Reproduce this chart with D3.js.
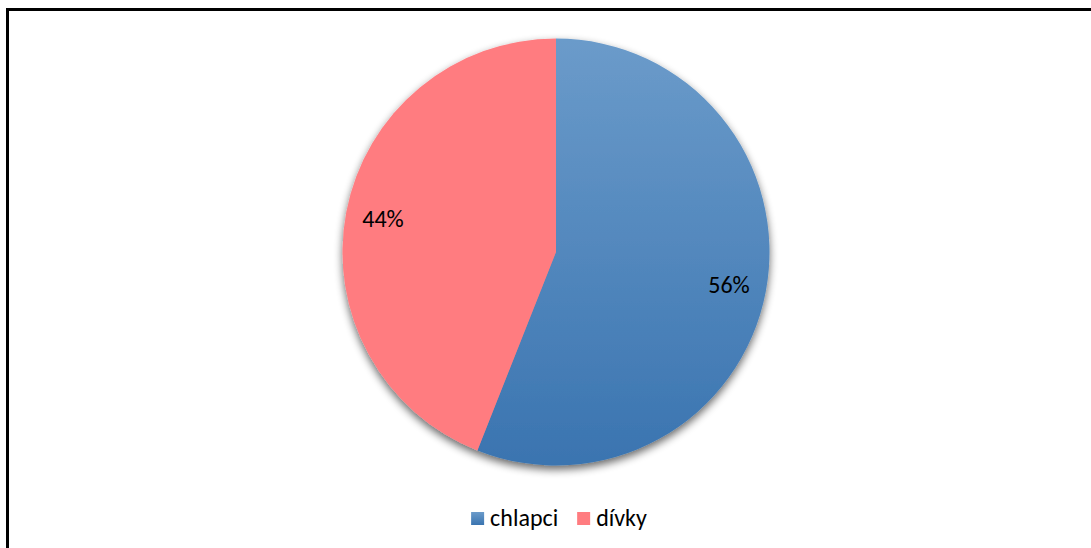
<!DOCTYPE html>
<html>
<head>
<meta charset="utf-8">
<script src="https://cdn.jsdelivr.net/npm/d3@7"></script>
<style>
  html, body { margin: 0; padding: 0; background: #fff; }
  svg { display: block; }
  text { font-family: Carlito, "Open Sans", Lato, sans-serif; }
</style>
</head>
<body>
<svg id="chart" width="1091" height="548"></svg>
<script>
// Pupils by gender
const categories = ["chlapci", "dívky"];
const shares = [56, 44];
const colors = ["#4a84bf", "#ff7c80"];

const svg = d3.select("#chart");
const W = 1091, H = 548;
const cx = 556, cy = 252, R = 213.5;
const fontSize = 24;

const defs = svg.append("defs");

// top-to-bottom shading of the blue slice (coordinates of the pie group)
const grad = defs.append("linearGradient")
  .attr("id", "blueGrad")
  .attr("gradientUnits", "userSpaceOnUse")
  .attr("x1", 0).attr("y1", -R).attr("x2", 0).attr("y2", R);
grad.append("stop").attr("offset", "0%").attr("stop-color", "#6b9bca");
grad.append("stop").attr("offset", "100%").attr("stop-color", "#3a74b0");

const lg = defs.append("linearGradient").attr("id", "legGrad")
  .attr("x1", 0).attr("y1", 0).attr("x2", 0).attr("y2", 1);
lg.append("stop").attr("offset", "0%").attr("stop-color", "#6b9bca");
lg.append("stop").attr("offset", "100%").attr("stop-color", "#3a74b0");

const shadow = defs.append("filter").attr("id", "shadow")
  .attr("x", "-20%").attr("y", "-20%").attr("width", "140%").attr("height", "140%");
shadow.append("feGaussianBlur").attr("in", "SourceAlpha").attr("stdDeviation", 4).attr("result", "b");
shadow.append("feOffset").attr("in", "b").attr("dx", 0).attr("dy", 4).attr("result", "o");
shadow.append("feComponentTransfer").attr("in", "o").attr("result", "s")
  .append("feFuncA").attr("type", "linear").attr("slope", 0.6);
const merge = shadow.append("feMerge");
merge.append("feMergeNode").attr("in", "s");
merge.append("feMergeNode").attr("in", "SourceGraphic");

// chart frame (right and bottom edges run off the page)
svg.append("rect")
  .attr("x", 7.5).attr("y", 9.5)
  .attr("width", W + 20).attr("height", H + 20)
  .attr("fill", "none").attr("stroke", "#000").attr("stroke-width", 3);

const pie = d3.pie().sort(null).value(d => d)(shares);
const arc = d3.arc().innerRadius(0).outerRadius(R);
const labelArc = d3.arc().innerRadius(R * 0.825).outerRadius(R * 0.825);

const g = svg.append("g").attr("transform", `translate(${cx},${cy})`);

g.append("g").attr("filter", "url(#shadow)")
  .selectAll("path").data(pie).join("path")
  .attr("d", arc)
  .attr("fill", (d, i) => i === 0 ? "url(#blueGrad)" : colors[i]);

g.selectAll("text.val").data(pie).join("text")
  .attr("class", "val")
  .attr("transform", d => `translate(${labelArc.centroid(d)})`)
  .attr("text-anchor", "middle")
  .attr("dy", "0.33em")
  .attr("font-size", fontSize)
  .attr("fill", "#000")
  .text(d => d.data + "%");

// legend, centred under the pie
const sw = 13, pad = 6, gap = 19;
const legend = svg.append("g");
const items = categories.map((name, i) => ({ name, fill: i === 0 ? "url(#legGrad)" : colors[i] }));
const li = legend.selectAll("g").data(items).join("g");
li.append("rect").attr("y", -sw - 1).attr("width", sw).attr("height", sw)
  .attr("fill", d => d.fill);
li.append("text").attr("x", sw + pad).attr("y", 0)
  .attr("font-size", fontSize).attr("fill", "#000")
  .text(d => d.name);

let x = 0;
li.each(function () {
  const w = this.querySelector("text").getComputedTextLength();
  d3.select(this).attr("transform", `translate(${x},0)`);
  x += sw + pad + w + gap;
});
const total = x - gap;
legend.attr("transform", `translate(${559 - total / 2},526)`);
</script>
</body>
</html>
